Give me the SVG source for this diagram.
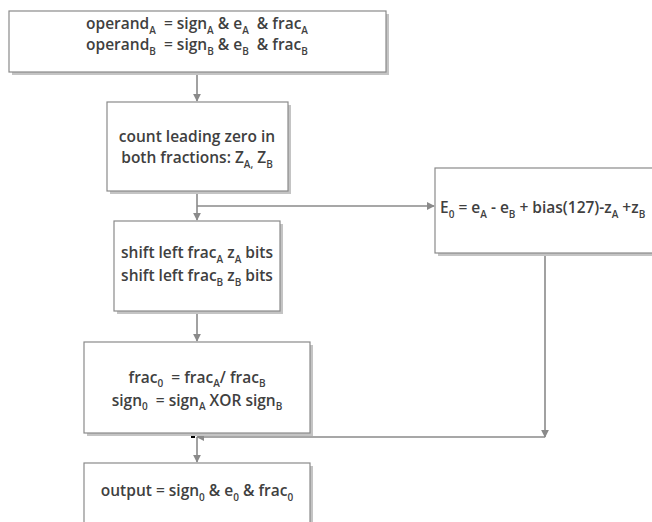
<svg xmlns="http://www.w3.org/2000/svg" width="652" height="522" viewBox="0 0 652 522">
<defs>
<style>
.box{fill:#fff;stroke:#8a8a8a;stroke-width:1.2}
.sh{fill:#c4c4c4}
.t{font-family:"Open Sans","Liberation Sans",sans-serif;font-size:15.5px;font-weight:600;fill:#404040;text-anchor:middle;white-space:pre}
.s{font-size:10px}
.ln{stroke:#8a8a8a;stroke-width:1.6;fill:none}
</style>
<marker id="ah" viewBox="0 0 10 10" refX="9" refY="5" markerWidth="5" markerHeight="5" orient="auto"><path d="M0,0 L10,5 L0,10 z" fill="#8a8a8a"/></marker>
</defs>
<rect width="652" height="522" fill="#fff"/>
<g id="connectors">
<line class="ln" x1="197" y1="73" x2="197" y2="101" marker-end="url(#ah)"/>
<line class="ln" x1="197" y1="192" x2="197" y2="220" marker-end="url(#ah)"/>
<polyline class="ln" points="197,206 434,206" marker-end="url(#ah)"/>
<line class="ln" x1="197" y1="312" x2="197" y2="341" marker-end="url(#ah)"/>
<line class="ln" x1="545" y1="254" x2="545" y2="437" marker-end="url(#ah)"/>
<line class="ln" x1="545" y1="437" x2="197" y2="437" marker-end="url(#ah)"/>
<line class="ln" x1="197" y1="437" x2="197" y2="462" marker-end="url(#ah)"/>
<rect x="191" y="434" width="4" height="4" fill="#000"/>
</g>
<g id="n1">
<rect class="sh" x="12" y="14" width="377" height="61"/>
<rect class="box" x="9" y="11" width="377" height="61"/>
<text class="t" x="197" y="29">operand<tspan class="s" dy="5">A</tspan><tspan dy="-5">  = sign</tspan><tspan class="s" dy="5">A</tspan><tspan dy="-5"> &amp; e</tspan><tspan class="s" dy="5">A</tspan><tspan dy="-5">  &amp; frac</tspan><tspan class="s" dy="5">A</tspan></text>
<text class="t" x="197" y="50">operand<tspan class="s" dy="5">B</tspan><tspan dy="-5">  = sign</tspan><tspan class="s" dy="5">B</tspan><tspan dy="-5"> &amp; e</tspan><tspan class="s" dy="5">B</tspan><tspan dy="-5">  &amp; frac</tspan><tspan class="s" dy="5">B</tspan></text>
</g>
<g id="n2">
<rect class="sh" x="110" y="105" width="181" height="89"/>
<rect class="box" x="107" y="102" width="181" height="89"/>
<text class="t" x="197" y="142">count leading zero in</text>
<text class="t" x="197" y="163">both fractions: Z<tspan class="s" dy="5">A,</tspan><tspan dy="-5"> Z</tspan><tspan class="s" dy="5">B</tspan></text>
</g>
<g id="n3">
<rect class="sh" x="117" y="224" width="166" height="90"/>
<rect class="box" x="114" y="221" width="166" height="90"/>
<text class="t" x="197" y="258">shift left frac<tspan class="s" dy="5">A</tspan><tspan dy="-5"> z</tspan><tspan class="s" dy="5">A</tspan><tspan dy="-5"> bits</tspan></text>
<text class="t" x="197" y="281">shift left frac<tspan class="s" dy="5">B</tspan><tspan dy="-5"> z</tspan><tspan class="s" dy="5">B</tspan><tspan dy="-5"> bits</tspan></text>
</g>
<g id="n4">
<rect class="sh" x="87" y="345" width="226" height="91"/>
<rect class="box" x="84" y="342" width="226" height="91"/>
<text class="t" x="197" y="383">frac<tspan class="s" dy="4">0</tspan><tspan dy="-4">  = frac</tspan><tspan class="s" dy="4">A</tspan><tspan dy="-4">/ frac</tspan><tspan class="s" dy="4">B</tspan></text>
<text class="t" x="197" y="406">sign<tspan class="s" dy="4">0</tspan><tspan dy="-4">  = sign</tspan><tspan class="s" dy="4">A</tspan><tspan dy="-4"> XOR sign</tspan><tspan class="s" dy="4">B</tspan></text>
</g>
<g id="n5">
<rect class="sh" x="87" y="466" width="226" height="70"/>
<rect class="box" x="84" y="463" width="226" height="70"/>
<text class="t" x="197" y="496">output = sign<tspan class="s" dy="5">0</tspan><tspan dy="-5"> &amp; e</tspan><tspan class="s" dy="5">0</tspan><tspan dy="-5"> &amp; frac</tspan><tspan class="s" dy="5">0</tspan></text>
</g>
<g id="n6">
<rect class="sh" x="438" y="171" width="230" height="85"/>
<rect class="box" x="435" y="168" width="230" height="85"/>
<text class="t" x="440" y="213" style="text-anchor:start">E<tspan class="s" dy="5">0</tspan><tspan dy="-5"> = e</tspan><tspan class="s" dy="5">A</tspan><tspan dy="-5"> - e</tspan><tspan class="s" dy="5">B</tspan><tspan dy="-5"> + bias(127)-z</tspan><tspan class="s" dy="5">A</tspan><tspan dy="-5"> +z</tspan><tspan class="s" dy="5">B</tspan></text>
</g>
</svg>
